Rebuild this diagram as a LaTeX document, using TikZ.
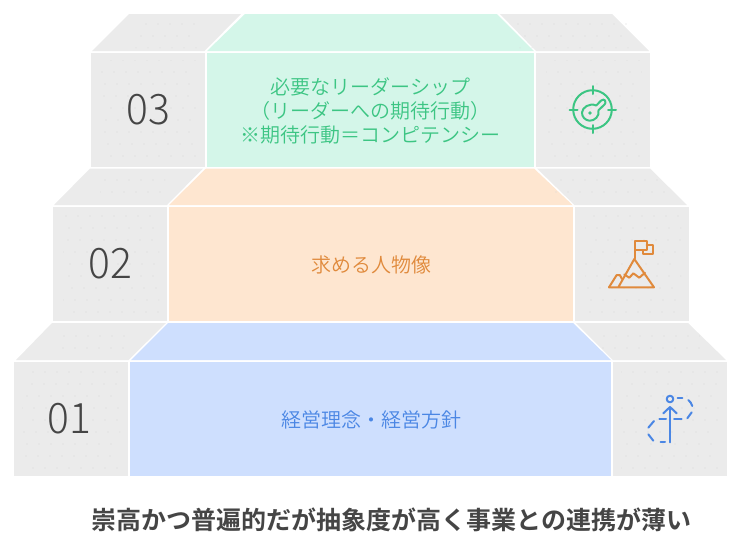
\documentclass[tikz,border=0pt]{standalone}
\usepackage{fontspec}
\newfontfamily\jpl{Noto Sans CJK JP DemiLight}
\newfontfamily\jpb{Noto Sans CJK JP Bold}
\newfontfamily\numf{Noto Sans CJK JP Light}
\definecolor{gbox}{HTML}{EBEBEB}
\definecolor{gdot}{HTML}{D8D8D8}
\definecolor{gtxt}{HTML}{454545}
\definecolor{grnbg}{HTML}{D4F6E9}
\definecolor{grn}{HTML}{3CC583}
\definecolor{orgbg}{HTML}{FEE6D0}
\definecolor{org}{HTML}{E08A3C}
\definecolor{blubg}{HTML}{CEDFFE}
\definecolor{blu}{HTML}{4A86E4}
\tikzset{
  numlabel/.style={font=\numf\fontsize{42}{42}\selectfont,text=gtxt,inner sep=0pt,xscale=0.97},
  midlabel/.style={font=\jpl\fontsize{20}{24}\selectfont,align=center,inner sep=0pt},
  iconline/.style={line width=2pt,line cap=round,line join=round},
}
\newcommand{\dotfield}[4]{%
  \foreach \yy in {#2,...,#4}{%
    \ifodd\yy
      \foreach \xx in {#1,...,#3}{\fill[gdot] ({\xx*12+\yy*3},{\yy*12}) circle (0.6);}%
    \else
      \foreach \xx in {#1,...,#3}{\fill[gdot] ({\xx*12+\yy*7},{\yy*12}) circle (0.6);}%
    \fi}}
\begin{document}
\begin{tikzpicture}[x=1pt,y=-1pt]
\useasboundingbox (0,0) rectangle (742,558);
% level 3
\fill[gbox] (129,14) -- (241,14) -- (204.5,51) -- (92,51) -- cycle;
\fill[grnbg] (245,14) -- (497,14) -- (534,51) -- (207,51) -- cycle;
\fill[gbox] (500,14) -- (612,14) -- (649,51) -- (536,51) -- cycle;
\fill[gbox] (91,52.5) rectangle (205,167);
\fill[grnbg] (207,52.5) rectangle (534,167);
\fill[gbox] (536,52.5) rectangle (650,167);
% level 2
\fill[gbox] (90,168.5) -- (203,168.5) -- (167,205) -- (54,205) -- cycle;
\fill[orgbg] (206,168.5) -- (534,168.5) -- (572.5,205) -- (169,205) -- cycle;
\fill[gbox] (537,168.5) -- (650,168.5) -- (687,205) -- (574.5,205) -- cycle;
\fill[gbox] (53,207) rectangle (166.5,321);
\fill[orgbg] (168.5,207) rectangle (573,321);
\fill[gbox] (575,207) rectangle (689,321);
% level 1
\fill[gbox] (52,323) -- (166,323) -- (128.5,360) -- (16,360) -- cycle;
\fill[blubg] (168,323) -- (573,323) -- (611,360) -- (131,360) -- cycle;
\fill[gbox] (576,323) -- (688,323) -- (726,360) -- (613,360) -- cycle;
\fill[gbox] (14,362) rectangle (128,476);
\fill[blubg] (130,362) rectangle (611,476);
\fill[gbox] (613,362) rectangle (727,476);
% texture dots
\begin{scope}
\clip (101,60) rectangle (197,160) (546,60) rectangle (642,160)
      (63,215) rectangle (159,314) (585,215) rectangle (681,314)
      (22,370) rectangle (120,470) (621,370) rectangle (719,470)
      (135,20) rectangle (200,48) (515,20) rectangle (630,48)
      (100,175) rectangle (165,202) (555,175) rectangle (665,202)
      (60,330) rectangle (130,357) (595,330) rectangle (700,357);
\dotfield{-20}{1}{61}{40}
\end{scope}
% labels
\node[numlabel] (n3) at (148,110) {03};
\node[numlabel] (n2) at (110,264) {02};
\node[numlabel] (n1) at (69,419) {01};
\node[midlabel,text=grn] (t3) at (370.5,111) {必要なリーダーシップ\\（リーダーへの期待行動）\\※期待行動＝コンピテンシー};
\node[midlabel,text=org] (t2) at (371,265) {求める人物像};
\node[midlabel,text=blu] (t1) at (371,420) {経営理念・経営方針};
\node[font=\jpb\fontsize{25}{25}\selectfont,text=gtxt,inner sep=0pt] (cap) at (391.5,520) {崇高かつ普遍的だが抽象度が高く事業との連携が薄い};
% target icon
\begin{scope}[iconline,draw=grn]
\draw (592.5,109.5) circle (19.3);
\draw (592.5,86) -- (592.5,94);
\draw (592.5,125) -- (592.5,133);
\draw (569.5,109.5) -- (577.5,109.5);
\draw (608,109.5) -- (616,109.5);
\draw (596.2,105.5) -- (601,100.6) .. controls (602.5,99.2) and (604.5,99.4) .. (605,100.5) .. controls (605.8,102) and (605.5,103.5) .. (604.5,104.5) -- (598.5,110.2)
  .. controls (600,116) and (594.5,121) .. (589.5,120.7) .. controls (585,120.3) and (581.8,116.7) .. (582,112.5) .. controls (582.2,107.5) and (589.5,102.5) .. (596.2,105.5) -- cycle;
\fill[grn] (590,113) circle (1.8);
\end{scope}
% mountain icon
\begin{scope}[iconline,draw=org]
\draw (635,258.3) -- (635,240.7) -- (646.7,240.7) -- (646.7,250) -- (635,250);
\draw (646.7,245) -- (653.3,245) -- (653.3,254.3) -- (643.3,254.3) -- (643.3,250);
\draw (609,287.3) -- (654,287.3) -- (634.3,259) -- (618.3,287.3);
\draw (609,287.3) -- (616.7,275) -- (619.8,275) -- (622,279);
\draw (624.3,274.5) -- (629.3,277.7) -- (633.3,273.3) -- (639.3,277.7) -- (645,272.7);
\end{scope}
% arrow icon
\begin{scope}[iconline,draw=blu]
\draw (670,399) circle (3.3);
\draw (670,442.3) -- (670,407);
\draw (663.3,413.3) -- (670,407) -- (676.7,413.3);
\draw (659.3,419.3) -- (666,419.3);
\draw (674,419.3) -- (681.7,419.3);
\draw (677.7,397.7) -- (682.3,397.7);
\draw (688.3,400) .. controls (690,401.5) and (691.7,403.5) .. (692.3,406);
\draw (691.7,412.3) -- (687.3,418.3);
\draw (654,421) -- (648.3,427.7);
\draw (648.3,434.3) -- (653.3,440.7);
\draw (660.7,442.3) -- (665,442.3);
\end{scope}
\end{tikzpicture}
\end{document}
